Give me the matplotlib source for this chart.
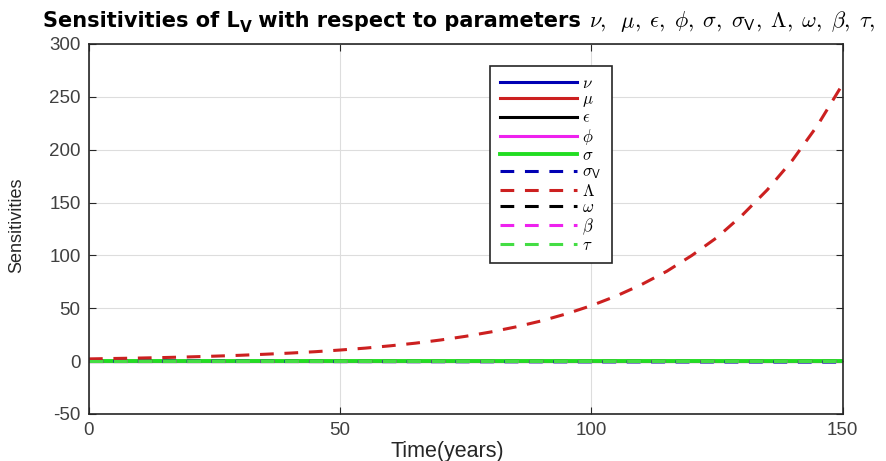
import matplotlib
matplotlib.use("Agg")
import matplotlib.pyplot as plt

plt.rcParams['font.family'] = ['Liberation Sans', 'DejaVu Sans']
plt.rcParams['mathtext.fontset'] = 'cm'
plt.rcParams['axes.unicode_minus'] = False

# time axis (years)
t = [0, 5, 10, 15, 20, 25, 30, 35, 40, 45, 50, 55, 60, 65, 70, 75,
     80, 85, 90, 95, 100, 105, 110, 115, 120, 125, 130, 135, 140, 145, 150]

# sensitivity to Lambda
s_Lambda = [2.1, 2.5, 2.9, 3.4, 4.0, 4.7, 5.5, 6.5, 7.6, 8.9, 10.5, 12.3,
            14.5, 17.0, 20.0, 23.5, 27.6, 32.4, 38.0, 44.7, 52.5, 61.7,
            72.5, 85.0, 100.0, 117.0, 138.0, 162.0, 190.0, 223.0, 262.0]

# the other sensitivities stay close to zero
t_flat = [0, 50, 100, 150]
s_nu = [0.0, 0.0, 0.0, 0.0]
s_mu = [0.0, 0.0, 0.0, 0.0]
s_eps = [0.0, 0.0, 0.0, 0.0]
s_phi = [0.0, 0.0, 0.0, 0.0]
s_sigma = [0.0, 0.0, 0.0, 0.0]
s_sigmaV = [0.0, -0.4, -0.7, -0.9]
s_omega = [0.0, 0.0, 0.0, 0.0]
s_beta = [0.0, 0.0, 0.0, 0.0]
s_tau = [0.0, 0.0, 0.0, 0.0]

fig = plt.figure(figsize=(8.87, 4.61), dpi=100)
ax = fig.add_axes([0.1003, 0.102, 0.8497, 0.8026])

lw = 2.2
dash = (0, (4.5, 3.5))
ax.plot(t_flat, s_nu, color='#0000b4', lw=lw, label=r'$\nu$')
ax.plot(t_flat, s_mu, color='#cc2020', lw=lw, label=r'$\mu$')
ax.plot(t_flat, s_eps, color='black', lw=lw, label=r'$\epsilon$')
ax.plot(t_flat, s_phi, color='#ee22ee', lw=lw, label=r'$\phi$')
ax.plot(t_flat, s_sigma, color='#22dd22', lw=2.8, label=r'$\sigma$')
ax.plot(t_flat, s_sigmaV, color='#0000b4', lw=lw, ls=dash, label=r'$\sigma_{\mathsf{V}}$')
ax.plot(t, s_Lambda, color='#cc2020', lw=lw, ls=dash, label=r'$\Lambda$')
ax.plot(t_flat, s_omega, color='black', lw=lw, ls=dash, label=r'$\omega$')
ax.plot(t_flat, s_beta, color='#ee22ee', lw=lw, ls=dash, label=r'$\beta$')
ax.plot(t_flat, s_tau, color='#44dd44', lw=lw, ls=dash, label=r'$\tau$')

ax.set_xlim(0, 150)
ax.set_ylim(-50, 300)
ax.set_xticks([0, 50, 100, 150])
ax.set_yticks([-50, 0, 50, 100, 150, 200, 250, 300])
ax.tick_params(direction='in', top=True, right=True, labelsize=13.5,
               labelcolor='#404040', color='#262626', length=5, pad=6)
ax.grid(True, color='#dddddd', lw=0.8)
for sp in ax.spines.values():
    sp.set_color('#262626')
    sp.set_linewidth(1.2)

ax.set_xlabel('Time(years)', fontsize=15.5, color='#262626')
ax.xaxis.set_label_coords(0.476, -0.072)
ax.set_ylabel('Sensitivities', fontsize=13, color='#262626')
ax.yaxis.set_label_coords(-0.085, 0.511)

leg = ax.legend(loc='upper left', bbox_to_anchor=(0.532, 0.941), fontsize=12,
                handlelength=4.6, labelspacing=0.08, handletextpad=0.35,
                fancybox=False, framealpha=1, borderpad=0.6,
                borderaxespad=0)
leg.get_frame().set_edgecolor('#262626')
leg.get_frame().set_linewidth(1.2)

# title built piece by piece so the bold sans subscript V can be used
renderer = fig.canvas.get_renderer()
pieces = [
    ('Sensitivities of L', 15, 0.0),
    ('V', 11, -5.0),
    (' with respect to parameters ', 15, 0.0),
]
x_px = 43.0
y_px = 461 - 27
for txt, size, dy in pieces:
    tx = fig.text(x_px / 887, (y_px + dy) / 461, txt, fontsize=size,
                  fontweight='bold', family=['DejaVu Sans'],
                  ha='left', va='baseline')
    x_px = tx.get_window_extent(renderer).x1
fig.text(x_px / 887, y_px / 461,
         r'$\nu,\;\;\mu,\;\epsilon,\;\phi,\;\sigma,\;\sigma_{\mathsf{V}},\;'
         r'\Lambda,\;\omega,\;\beta,\;\tau,$',
         fontsize=16, ha='left', va='baseline')

fig.savefig('out.png', dpi=100)
